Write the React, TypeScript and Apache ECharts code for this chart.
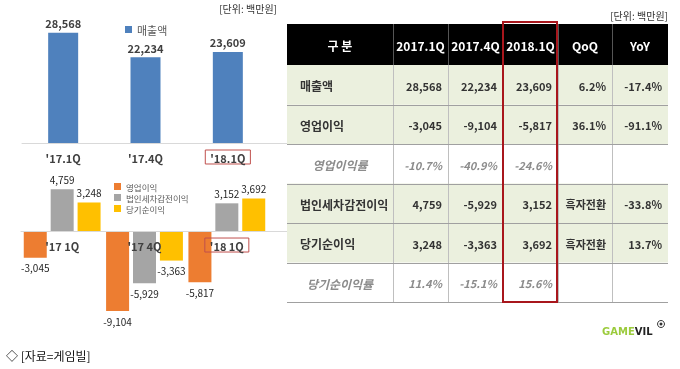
import React, { useEffect, useRef } from 'react';
import * as echarts from 'echarts';

// ---- data ----
const revenueCats = ["'17.1Q", "'17.4Q", "'18.1Q"];
const revenue = [28568, 22234, 23609];

const profitCats = ["'17 1Q", "'17 4Q", "'18 1Q"];
const operatingProfit = [-3045, -9104, -5817];
const preTaxProfit = [4759, -5929, 3152];
const netProfit = [3248, -3363, 3692];

const tableHeader = ['구 분', '2017.1Q', '2017.4Q', '2018.1Q', 'QoQ', 'YoY'];
const tableRowLabels = ['매출액', '영업이익', '영업이익률', '법인세차감전이익', '당기순이익', '당기순이익률'];
const col2017Q1 = ['28,568', '-3,045', '-10.7%', '4,759', '3,248', '11.4%'];
const col2017Q4 = ['22,234', '-9,104', '-40.9%', '-5,929', '-3,363', '-15.1%'];
const col2018Q1 = ['23,609', '-5,817', '-24.6%', '3,152', '3,692', '15.6%'];
const colQoQ = ['6.2%', '36.1%', '', '흑자전환', '흑자전환', ''];
const colYoY = ['-17.4%', '-91.1%', '', '-33.8%', '13.7%', ''];
const ratioRows = [false, false, true, false, false, true];

const unitText = '[단위: 백만원]';
const sourceText = '◇ [자료=게임빌]';

// ---- style / layout ----
const FONT = "'Noto Sans CJK KR', 'Noto Sans', sans-serif";
const BLUE = '#4F81BD';
const ORANGE = '#ED7D31';
const GRAY = '#A5A5A5';
const YELLOW = '#FFC000';
const RED = '#A8161C';
const BOX_RED = '#C0504D';
const TX = [287, 393, 448, 503, 558, 612, 668];
const TY0 = 24;
const HEAD_H = 41;
const ROW_H = 39.5;
const HIGHLIGHT = 2;

const fmt = (v: number) => v.toLocaleString('en-US');

function buildTable(): any[] {
  const g: any[] = [];
  const right = TX[TX.length - 1];
  const left = TX[0];
  const bodyTop = TY0 + HEAD_H;
  const bodyBottom = bodyTop + ROW_H * tableRowLabels.length;
  g.push({ type: 'rect', shape: { x: left, y: TY0, width: right - left, height: HEAD_H }, style: { fill: '#000' }, silent: true });
  for (let c = 1; c < TX.length - 1; c++) {
    g.push({ type: 'line', shape: { x1: TX[c] + 0.5, y1: TY0, x2: TX[c] + 0.5, y2: bodyTop }, style: { stroke: '#555', lineWidth: 1 }, silent: true });
  }
  tableHeader.forEach((h, c) => {
    g.push({
      type: 'text', silent: true,
      style: { text: h, x: (TX[c] + TX[c + 1]) / 2, y: TY0 + HEAD_H / 2 + 1, align: 'center', verticalAlign: 'middle', fill: '#fff', font: `bold 12px ${FONT}` },
    });
  });
  tableRowLabels.forEach((_, r) => {
    if (!ratioRows[r]) {
      g.push({ type: 'rect', shape: { x: left, y: bodyTop + r * ROW_H, width: right - left, height: ROW_H }, style: { fill: '#EBF0DE' }, silent: true });
    }
  });
  for (let c = 1; c < TX.length - 1; c++) {
    g.push({ type: 'line', shape: { x1: TX[c] + 0.5, y1: bodyTop, x2: TX[c] + 0.5, y2: bodyBottom }, style: { stroke: '#BFBFBF', lineWidth: 1 }, silent: true });
  }
  for (let r = 1; r <= tableRowLabels.length; r++) {
    const y = Math.round(bodyTop + r * ROW_H) + 0.5;
    g.push({ type: 'line', shape: { x1: left, y1: y, x2: right, y2: y }, style: { stroke: '#A0A0A0', lineWidth: 1 }, silent: true });
  }
  const cols = [col2017Q1, col2017Q4, col2018Q1, colQoQ, colYoY];
  tableRowLabels.forEach((lab, r) => {
    const cy = bodyTop + r * ROW_H + ROW_H / 2 + 1;
    const italic = ratioRows[r];
    g.push({
      type: 'text', silent: true,
      style: italic
        ? { text: lab, x: (TX[0] + TX[1]) / 2, y: cy, align: 'center', verticalAlign: 'middle', fill: '#8C8C8C', font: `italic bold 12px ${FONT}` }
        : { text: lab, x: TX[0] + 13, y: cy, align: 'left', verticalAlign: 'middle', fill: '#333', font: `bold 12px ${FONT}` },
    });
    cols.forEach((col, c) => {
      if (!col[r]) return;
      g.push({
        type: 'text', silent: true,
        style: {
          text: col[r], x: TX[c + 2] - 6, y: cy, align: 'right', verticalAlign: 'middle',
          fill: italic ? '#8C8C8C' : '#333',
          font: `${italic ? 'italic ' : ''}bold 11px ${FONT}`,
        },
      });
    });
  });
  g.push({ type: 'rect', z: 10, shape: { x: TX[3], y: TY0 - 2, width: TX[4] - TX[3] - 1, height: bodyBottom - TY0 + 2 }, style: { fill: 'none', stroke: RED, lineWidth: 2 }, silent: true });
  g.push({ type: 'text', silent: true, style: { text: unitText, x: right, y: 15, align: 'right', verticalAlign: 'middle', fill: '#333', font: `10px ${FONT}` } });
  g.push({ type: 'text', silent: true, style: { text: unitText, x: 277, y: 8, align: 'right', verticalAlign: 'middle', fill: '#333', font: `10px ${FONT}` } });
  g.push({ type: 'text', silent: true, style: { text: sourceText, x: 6, y: 355, align: 'left', verticalAlign: 'middle', fill: '#111', font: `12px ${FONT}` } });
  g.push({
    type: 'text', silent: true,
    style: {
      text: '{a|GAME}{b|VIL}', x: 602, y: 331, align: 'left', verticalAlign: 'middle',
      rich: {
        a: { fill: '#9BCB3C', font: "bold 10px 'DejaVu Sans'" },
        b: { fill: '#222', font: "bold 10px 'DejaVu Sans'" },
      },
    },
  });
  g.push({ type: 'circle', silent: true, shape: { cx: 661, cy: 324, r: 3.5 }, style: { fill: '#fff', stroke: '#333', lineWidth: 1 } });
  g.push({ type: 'circle', silent: true, shape: { cx: 661, cy: 324, r: 1.5 }, style: { fill: '#333' } });
  return g;
}

const labelRich = {
  n: { padding: [2, 5, 1, 5], fontSize: 11, fontWeight: 'bold', color: '#404040', fontFamily: FONT },
  h: { padding: [2, 5, 1, 5], fontSize: 11, fontWeight: 'bold', color: '#404040', fontFamily: FONT, borderColor: BOX_RED, borderWidth: 1 },
};

function barData(vals: number[]) {
  return vals.map((v) => ({ value: v, label: { position: v < 0 ? 'bottom' : 'top' } }));
}

export default function App() {
  const ref = useRef<HTMLDivElement>(null);
  useEffect(() => {
    document.body.style.margin = '0';
    const chart = echarts.init(ref.current!, undefined, { renderer: 'svg' });
    const option: any = {
      animation: false,
      textStyle: { fontFamily: FONT },
      grid: [
        { left: 22, top: 8, width: 247, height: 135 },
        { left: 21, top: 178.3, width: 247, height: 140.6 },
      ],
      legend: [
        {
          data: ['매출액'], left: 125, top: 24, padding: 0, icon: 'rect', itemWidth: 7, itemHeight: 7,
          textStyle: { fontSize: 11, color: '#595959', fontFamily: FONT },
        },
        {
          data: ['영업이익', '법인세차감전이익', '당기순이익'], orient: 'vertical', left: 114, top: 182, padding: 0,
          icon: 'rect', itemWidth: 7, itemHeight: 7, itemGap: 2,
          textStyle: { fontSize: 8.5, lineHeight: 9, color: '#595959', fontFamily: FONT },
        },
      ],
      xAxis: [
        {
          type: 'category', gridIndex: 0, data: revenueCats, z: 5,
          axisLine: { lineStyle: { color: '#D9D9D9' } }, axisTick: { show: false },
          axisLabel: { margin: 7, formatter: (v: string, i: number) => (i === HIGHLIGHT ? `{h|${v}}` : `{n|${v}}`), rich: labelRich },
        },
        {
          type: 'category', gridIndex: 1, data: profitCats, z: 5,
          axisLine: { onZero: true, lineStyle: { color: '#D9D9D9' } }, axisTick: { show: false },
          axisLabel: { show: false },
        },
      ],
      yAxis: [
        { type: 'value', gridIndex: 0, min: 0, max: 35000, show: false, splitLine: { show: false } },
        { type: 'value', gridIndex: 1, min: -10000, max: 6000, show: false, splitLine: { show: false } },
      ],
      series: [
        {
          name: '매출액', type: 'bar', xAxisIndex: 0, yAxisIndex: 0, data: revenue, barWidth: 30,
          itemStyle: { color: BLUE },
          label: { show: true, position: 'top', distance: 4, formatter: (p: any) => fmt(p.value), fontSize: 11, fontWeight: 'bold', color: '#404040', fontFamily: FONT },
        },
        ...[
          ['영업이익', operatingProfit, ORANGE],
          ['법인세차감전이익', preTaxProfit, GRAY],
          ['당기순이익', netProfit, YELLOW],
        ].map(([name, vals, color]) => ({
          name, type: 'bar', xAxisIndex: 1, yAxisIndex: 1, data: barData(vals as number[]), barWidth: 23, barGap: '17%',
          itemStyle: { color },
          label: { show: true, distance: 5, formatter: (p: any) => fmt(p.value), fontSize: 10, color: '#262626', fontFamily: FONT },
        })),
      ],
    };
    chart.setOption(option);
    const g = buildTable();
    [0, 1].forEach((gi) => {
      const p0 = chart.convertToPixel({ gridIndex: gi } as any, [0, 0]) as number[];
      const gr = (chart as any).getModel().getComponent('grid', gi).coordinateSystem.getRect();
      const y = Math.round(p0[1]) + 0.5;
      g.push({ type: 'line', silent: true, shape: { x1: gr.x + gr.width, y1: y, x2: TX[0], y2: y }, style: { stroke: '#D9D9D9', lineWidth: 1 } });
    });
    profitCats.forEach((cat, i) => {
      const p = chart.convertToPixel({ gridIndex: 1 } as any, [i, 0]) as number[];
      const hl = i === HIGHLIGHT;
      g.push({
        type: 'text', silent: true, z: 100,
        style: {
          text: cat, x: p[0], y: p[1] + 7, align: 'center', verticalAlign: 'top',
          fill: '#404040', font: `bold 11px ${FONT}`, padding: [2, 5, 1, 5],
          ...(hl ? { borderColor: BOX_RED, borderWidth: 1 } : {}),
        },
      });
    });
    chart.setOption({ graphic: g });
    return () => chart.dispose();
  }, []);
  return <div ref={ref} style={{ position: 'fixed', left: 0, top: 0, width: 680, height: 369 }} />;
}
